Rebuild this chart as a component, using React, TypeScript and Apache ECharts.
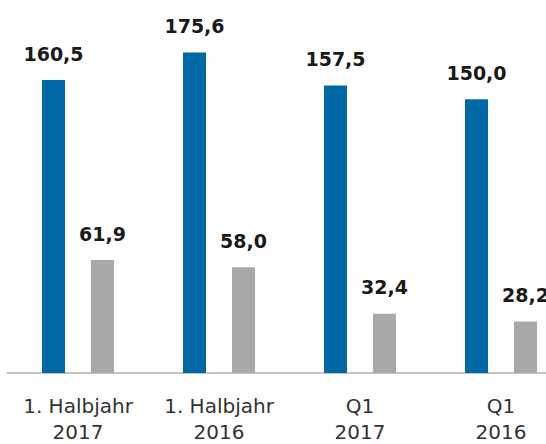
import React, { useEffect, useRef } from "react";
import * as echarts from "echarts";

const categories = ["1. Halbjahr\n2017", "1. Halbjahr\n2016", "Q1\n2017", "Q1\n2016"];
const seriesA = [160.5, 175.6, 157.5, 150.0];
const seriesB = [61.9, 58.0, 32.4, 28.2];

const fmt = (v: number) => v.toFixed(1).replace(".", ",");

export default function App() {
  const ref = useRef<HTMLDivElement>(null);
  useEffect(() => {
    if (!ref.current) return;
    const chart = echarts.init(ref.current, null, { renderer: "svg" });
    const label = {
      show: true,
      position: "top" as const,
      distance: 17,
      fontFamily: "DejaVu Sans",
      fontWeight: "bold" as const,
      fontSize: 19,
      color: "#1a1a1a",
      formatter: (p: any) => fmt(p.value),
    };
    chart.setOption({
      animation: false,
      grid: { left: 7.5, top: 8, bottom: 71, right: -25.5, outerBoundsMode: "none", containLabel: false },
      xAxis: {
        type: "category",
        data: categories,
        axisLine: { show: true, lineStyle: { color: "#c4c4c4", width: 2 } },
        axisTick: { show: false },
        axisLabel: {
          fontFamily: "DejaVu Sans",
          fontSize: 20,
          color: "#333333",
          lineHeight: 26,
          margin: 20,
          interval: 0,
        },
      },
      yAxis: {
        type: "value",
        min: 0,
        max: 200,
        show: false,
        splitLine: { show: false },
      },
      series: [
        {
          type: "bar",
          data: seriesA,
          barWidth: 23,
          barGap: "113%",
          itemStyle: { color: "#0069a6" },
          label,
        },
        {
          type: "bar",
          data: seriesB,
          barWidth: 23,
          itemStyle: { color: "#a9a8a6" },
          label,
        },
      ],
    });
    return () => chart.dispose();
  }, []);
  return <div ref={ref} style={{ width: 546, height: 444, position: "absolute", left: 0, top: 0 }} />;
}
